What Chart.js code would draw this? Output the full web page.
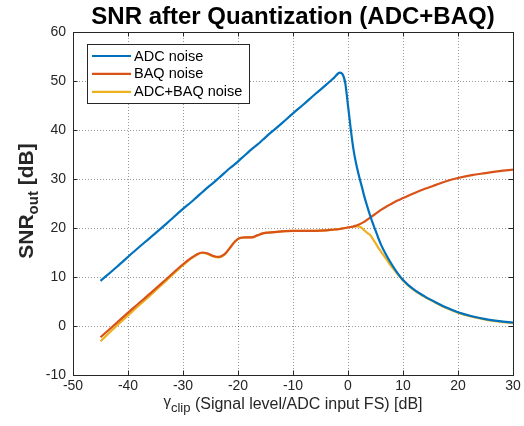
<!DOCTYPE html>
<html>
<head>
<meta charset="utf-8">
<script src="https://cdn.jsdelivr.net/npm/chart.js@4"></script>
<style>
html,body{margin:0;padding:0;background:#fff;}
#wrap{width:524px;height:426px;}
</style>
</head>
<body>
<div id="wrap"><canvas id="c" width="524" height="426"></canvas></div>
<script>
const chartTitle = "SNR after Quantization (ADC+BAQ)";
const xLabelMain = "(Signal level/ADC input FS) [dB]";
const seriesLabels = ["ADC noise", "BAQ noise", "ADC+BAQ noise"];
const seriesColors = ["#0072BD", "#D95319", "#EDB120"];
const xTicks = [-50, -40, -30, -20, -10, 0, 10, 20, 30];
const yTicks = [-10, 0, 10, 20, 30, 40, 50, 60];

const gammaClip = [-45,-42,-39,-36,-33,-30,-28.5,-27.5,-26.5,-25.5,-24.5,-23.5,-22.5,-21.5,-20.5,-19.5,-18.5,-17.5,-16.5,-15.5,-14,-12,-10,-8,-6,-4,-2.5,-1.5,-1,-0.5,0,0.5,1,1.5,2,2.5,3,3.5,4,4.5,5,5.5,6,7,8,9,10,12,14,16,18,20,22.5,25,27.5,30];

const adcNoise = [9.2,12.1,15.1,18.0,20.9,23.9,25.3,26.3,27.3,28.3,29.2,30.2,31.2,32.2,33.1,34.1,35.1,36.1,37.0,38.0,39.5,41.4,43.4,45.3,47.3,49.2,50.7,51.7,51.4,49.6,45.0,40.2,36.0,33.0,30.6,28.5,26.3,24.4,22.6,21.0,19.5,18.0,16.6,14.4,12.5,10.8,9.4,7.4,6.0,4.8,3.7,2.8,2.0,1.4,1.0,0.7];

const baqNoise = [-2.3,0.7,3.7,6.6,9.6,12.6,13.9,14.6,15.0,14.8,14.3,14.1,14.6,15.9,17.3,18.0,18.1,18.1,18.5,18.9,19.1,19.3,19.4,19.4,19.4,19.5,19.7,19.8,19.9,20.0,20.1,20.2,20.3,20.5,20.7,21.0,21.3,21.7,22.1,22.5,22.9,23.3,23.7,24.4,25.0,25.6,26.1,27.1,28.0,28.8,29.6,30.2,30.8,31.2,31.6,31.9];

const adcBaqNoise = [-3.1,0.1,3.2,6.2,9.3,12.4,13.8,14.5,14.9,14.7,14.2,14.0,14.5,15.9,17.3,18.0,18.1,18.1,18.5,18.9,19.1,19.3,19.4,19.4,19.4,19.5,19.7,19.8,19.9,20.0,20.1,20.2,20.3,20.35,20.3,20.0,19.5,19.0,18.6,17.8,16.9,16.0,15.2,13.6,12.0,10.6,9.3,7.3,5.9,4.7,3.6,2.7,1.9,1.3,0.9,0.6];

const seriesValues = [adcNoise, baqNoise, adcBaqNoise];

function toPoints(xs, ys){ return xs.map((x,i)=>({x:x, y:ys[i]})); }

const FONT = "'Liberation Sans', Arial, Helvetica, sans-serif";
const TXT = "#262626";
const GRID = "rgba(0,0,0,0.4)";

const overlay = {
  id: 'overlay',
  afterDraw(chart){
    const ctx = chart.ctx;
    const a = chart.chartArea;
    const xs = chart.scales.x, ys = chart.scales.y;
    ctx.save();
    // frame
    ctx.strokeStyle = TXT;
    ctx.lineWidth = 1;
    ctx.setLineDash([]);
    ctx.strokeRect(Math.round(a.left)+0.5, Math.round(a.top)+0.5, Math.round(a.right-a.left), Math.round(a.bottom-a.top));
    // inward ticks
    ctx.beginPath();
    xTicks.forEach(v=>{
      const px = Math.round(xs.getPixelForValue(v))+0.5;
      ctx.moveTo(px, a.bottom); ctx.lineTo(px, a.bottom-4.5);
      ctx.moveTo(px, a.top); ctx.lineTo(px, a.top+4.5);
    });
    yTicks.forEach(v=>{
      const py = Math.round(ys.getPixelForValue(v))+0.5;
      ctx.moveTo(a.left, py); ctx.lineTo(a.left+4.5, py);
      ctx.moveTo(a.right, py); ctx.lineTo(a.right-4.5, py);
    });
    ctx.stroke();

    // title
    ctx.fillStyle = "#000";
    ctx.font = "bold 24px " + FONT;
    ctx.textAlign = "center";
    ctx.textBaseline = "alphabetic";
    ctx.fillText(chartTitle, (a.left+a.right)/2, 24);

    // y label: SNR_out [dB]
    ctx.save();
    ctx.translate(33, 201);
    ctx.rotate(-Math.PI/2);
    ctx.fillStyle = TXT;
    const big = "bold 21px " + FONT, small = "bold 15px " + FONT;
    ctx.font = big; const w1 = ctx.measureText("SNR").width;
    ctx.font = small; const w2 = ctx.measureText("out").width;
    ctx.font = big; const w3 = ctx.measureText(" [dB]").width;
    let sx = -(w1+w2+w3)/2;
    ctx.textAlign = "left";
    ctx.font = big; ctx.fillText("SNR", sx, 0); sx += w1;
    ctx.font = small; ctx.fillText("out", sx, 5); sx += w2;
    ctx.font = big; ctx.fillText(" [dB]", sx, 0);
    ctx.restore();

    // x label: γ_clip (Signal level/ADC input FS) [dB]
    ctx.fillStyle = TXT;
    ctx.textAlign = "left";
    const f1 = "15px " + FONT, fs = "13px " + FONT, fm = "16px " + FONT;
    ctx.font = f1; const g1 = ctx.measureText("\u03B3").width;
    ctx.font = fs; const g2 = ctx.measureText("clip").width;
    ctx.font = fm; const g3 = ctx.measureText(" " + xLabelMain).width;
    let tx = (a.left+a.right)/2 - (g1+g2+g3)/2;
    const base = 409;
    ctx.font = f1; ctx.fillText("\u03B3", tx, base-3); tx += g1;
    ctx.font = fs; ctx.fillText("clip", tx, base+3); tx += g2;
    ctx.font = fm; ctx.fillText(" " + xLabelMain, tx, base);

    // legend
    const lx = 87, ly = 44, lw = 162, lh = 59;
    ctx.fillStyle = "#fff";
    ctx.fillRect(lx, ly, lw, lh);
    ctx.strokeStyle = TXT;
    ctx.lineWidth = 1;
    ctx.strokeRect(lx+0.5, ly+0.5, lw, lh);
    ctx.font = "14.5px " + FONT;
    ctx.textBaseline = "middle";
    chart.data.datasets.forEach((ds, i)=>{
      const yy = 56 + i*17.9;
      ctx.strokeStyle = ds.borderColor;
      ctx.lineWidth = 2.2;
      ctx.beginPath(); ctx.moveTo(92, yy); ctx.lineTo(131, yy); ctx.stroke();
      ctx.fillStyle = "#000";
      ctx.fillText(ds.label, 134, yy+0.5);
    });
    ctx.restore();
  }
};

new Chart(document.getElementById('c'), {
  type: 'line',
  data: {
    datasets: seriesLabels.map((lab, i)=>({
      label: lab,
      data: toPoints(gammaClip, seriesValues[i]),
      borderColor: seriesColors[i],
      backgroundColor: seriesColors[i],
      borderWidth: 2.2,
      pointRadius: 0,
      fill: false,
      cubicInterpolationMode: 'monotone'
    }))
  },
  options: {
    responsive: false,
    animation: false,
    layout: { padding: { top: 32, right: 11, left: 0, bottom: 0 } },
    plugins: { legend: { display: false }, title: { display: false }, tooltip: { enabled: false } },
    scales: {
      x: {
        type: 'linear', min: -50, max: 30,
        afterBuildTicks: s => { s.ticks = xTicks.map(v=>({value:v})); },
        afterFit: s => { s.height = 51; },
        border: { display: false, dash: [1, 2] },
        grid: { color: GRID, drawTicks: false, lineWidth: 1 },
        ticks: { padding: 3, color: TXT, font: { family: FONT, size: 14 }, maxRotation: 0 }
      },
      y: {
        type: 'linear', min: -10, max: 60,
        afterBuildTicks: s => { s.ticks = yTicks.map(v=>({value:v})); },
        afterFit: s => { s.width = 73; },
        border: { display: false, dash: [1, 2] },
        grid: { color: GRID, drawTicks: false, lineWidth: 1 },
        ticks: { padding: 7, color: TXT, font: { family: FONT, size: 14 } }
      }
    }
  },
  plugins: [overlay]
});
</script>
</body>
</html>
